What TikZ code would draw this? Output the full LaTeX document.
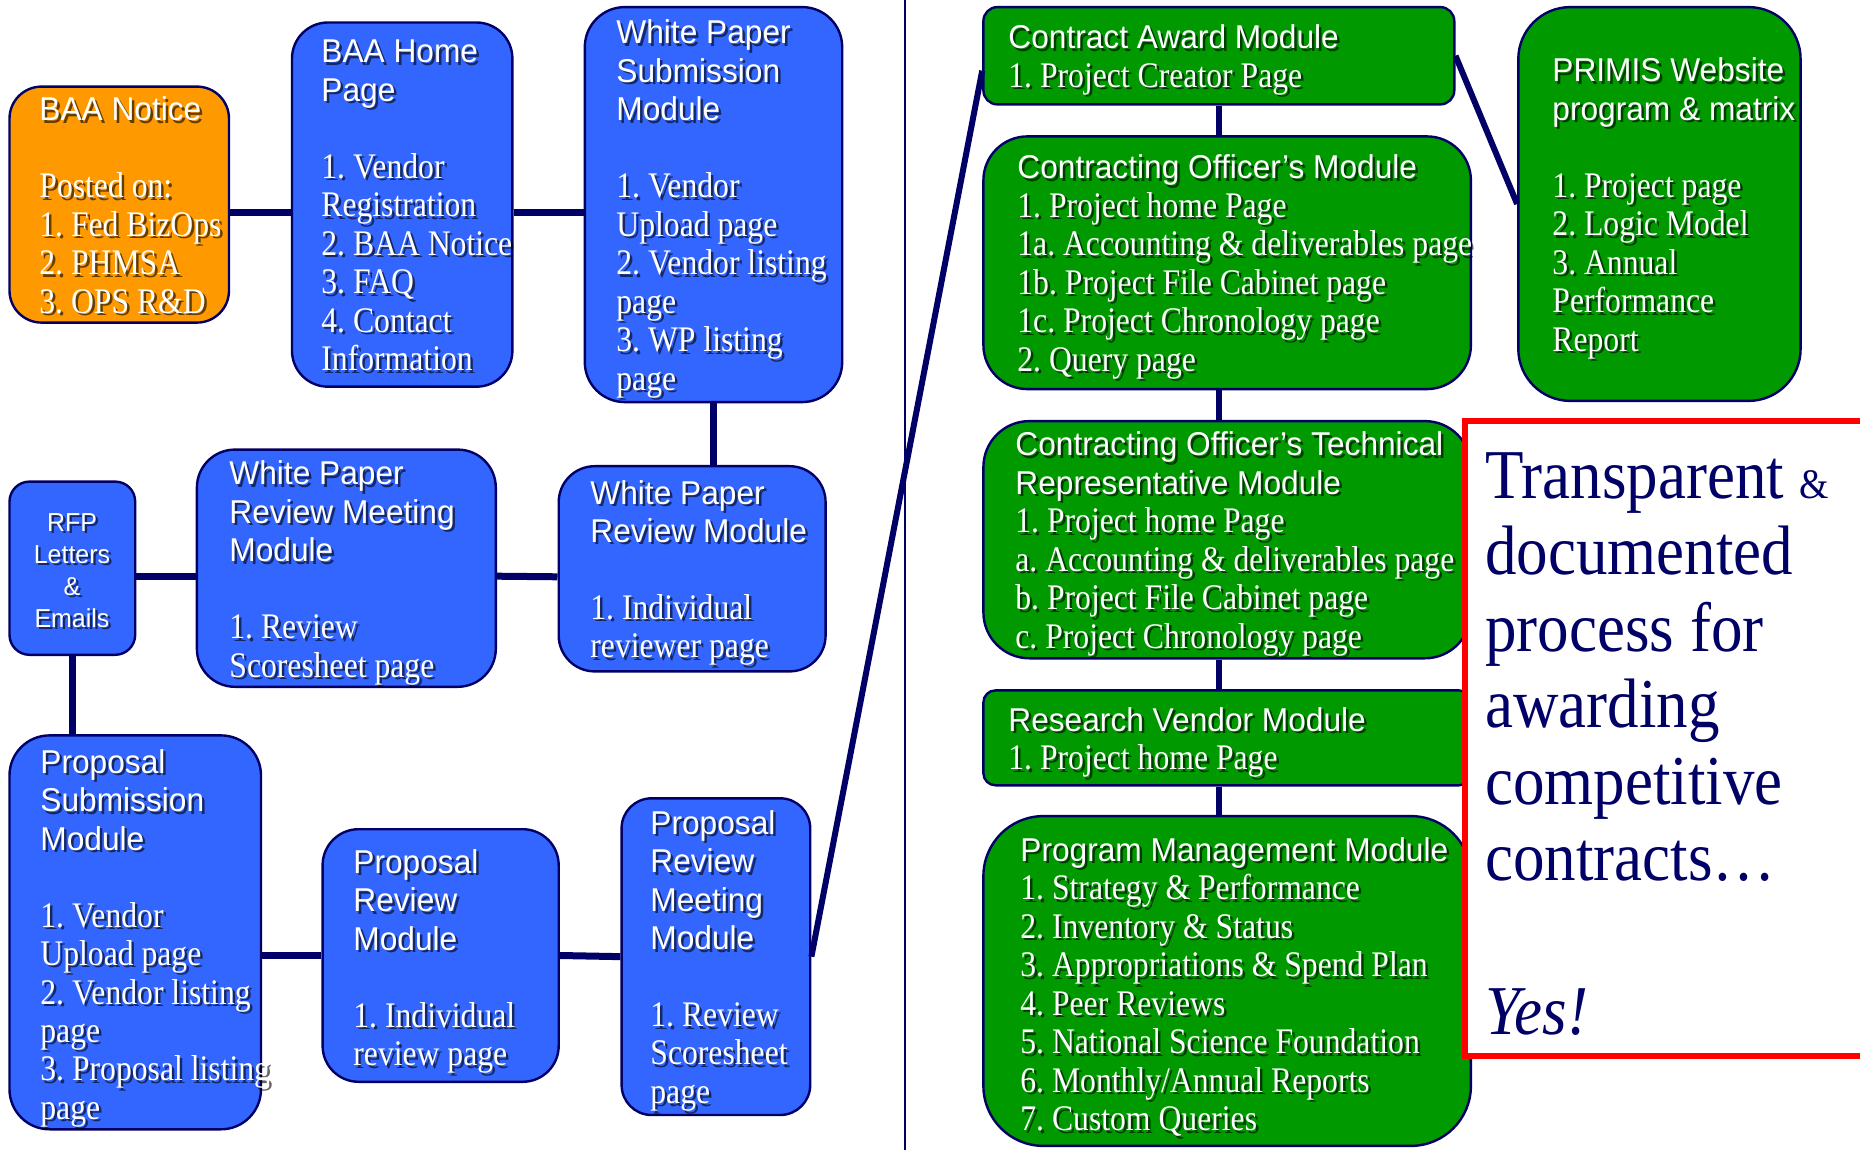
\documentclass[tikz,border=0pt]{standalone}
\usepackage{fontspec}
\setmainfont[FakeStretch=0.88]{Liberation Serif}
\newfontfamily\headfont[FakeStretch=0.96]{Liberation Sans}
\newfontfamily\bigfont[FakeStretch=0.9]{Liberation Serif}
\usetikzlibrary{fit,calc}
\definecolor{boxblue}{HTML}{3366FF}
\definecolor{boxorange}{HTML}{FF9900}
\definecolor{boxgreen}{HTML}{009900}
\definecolor{navy}{HTML}{000066}
\definecolor{alert}{HTML}{FF0000}
\frenchspacing
\newcommand\hd[1]{{\headfont\fontsize{16.5pt}{19.25pt}\selectfont #1}}
\newcommand\gap{\\[19.25pt]}
\newcommand\shtext[4][txt]{%
  \node[#1, text=black, text opacity=.6] (#2-sh) at ([shift={(2.5,2.5)}]#3) {#4};
  \node[#1] (#2) at (#3) {#4};}
\tikzset{
  box/.style={draw=navy, line width=1.2pt, rounded corners=18pt, inner sep=0pt},
  blbox/.style={box, fill=boxblue},
  grbox/.style={box, fill=boxgreen},
  orbox/.style={box, fill=boxorange},
  txt/.style={anchor=base west, inner sep=0pt, text width=300pt, align=flush left,
    text=white, font=\fontsize{18pt}{19.25pt}\selectfont},
  rfptxt/.style={txt, anchor=base, text width=60pt, align=flush center,
    font=\headfont\fontsize{13pt}{16pt}\selectfont},
  link/.style={draw=navy, line width=3.5pt},
  low/.style={yshift=-4pt},
  slant/.style={draw=navy, line width=3pt},
}
\begin{document}
\begin{tikzpicture}[x=0.5pt, y=-0.5pt]
\useasboundingbox (0,0) rectangle (1860,1150);
\coordinate (divtop) at (905,0);
\coordinate (divbot) at (905,1150);
\draw[navy, line width=1.2pt] (divtop) -- (divbot);

\node[orbox, rounded corners=16pt, fit={(9.5,86.6) (229,322.6)}] (notice) {};
\node[blbox, fit={(292,22.5) (512.4,386.7)}] (home) {};
\node[blbox, rounded corners=20pt, fit={(584.8,7.1) (842.2,402.1)}] (wps) {};
\node[blbox, fit={(558.7,466.2) (825.6,671.4)}] (wpr) {};
\node[blbox, rounded corners=19pt, fit={(196.9,449.6) (495.8,686.8)}] (wprm) {};
\node[blbox, rounded corners=10pt, fit={(9.5,481.6) (135.2,654.8)}] (rfp) {};
\node[blbox, rounded corners=20pt, fit={(9.5,735.4) (261,1129.3)}] (psm) {};
\node[blbox, fit={(322.6,829.2) (558.7,1081.8)}] (prm) {};
\node[blbox, rounded corners=15pt, fit={(621.6,798.3) (810.2,1115)}] (prmm) {};

\node[grbox, rounded corners=7pt, fit={(983.4,7.1) (1454.3,104.4)}] (ca) {};
\node[grbox, rounded corners=22pt, fit={(983.4,136.4) (1470.9,389.1)}] (com) {};
\node[grbox, rounded corners=23pt, fit={(983.4,421.1) (1470.9,658.3)}] (cotr) {};
\node[grbox, rounded corners=6pt, fit={(983.4,690.4) (1470.9,785.3)}] (rvm) {};
\node[grbox, rounded corners=30pt, fit={(983.4,816.1) (1470.9,1145.9)}] (pmm) {};
\node[grbox, rounded corners=26pt, fit={(1518.3,7.1) (1800.6,400.9)}] (primis) {};

\draw[link] ([low]notice.east) -- ([low]home.west);
\draw[link] ([low]home.east) -- ([low]wps.west);
\draw[link] (wps.south) -- (wps.south |- wpr.north);
\draw[link] ([low]rfp.east) -- ([low]wprm.west);
\draw[link] ([low]wprm.east) -- ([low]wpr.west);
\draw[link] (rfp.south) -- (rfp.south |- psm.north);
\draw[link] (prm.west -| psm.east) -- (prm.west);
\draw[link] (prm.east) -- (prmm.west);
\draw[slant] (prmm.east) -- ($(ca.west)!.3!(ca.south west)$);
\draw[slant] (ca.east) -- (primis.west);
\draw[slant] (ca.south) -- (com.north -| ca.south);
\draw[slant] (com.south -| ca.south) -- (cotr.north -| ca.south);
\draw[slant] (cotr.south -| ca.south) -- (rvm.north -| ca.south);
\draw[slant] (rvm.south -| ca.south) -- (pmm.north -| ca.south);

\shtext{notice-t}{39,121}{\hd{BAA Notice}\gap Posted on:\\ 1. Fed BizOps\\ 2. PHMSA\\ 3. OPS R\&D}
\shtext{home-t}{321,63}{\hd{BAA Home}\\ \hd{Page}\gap 1. Vendor\\ Registration\\ 2. BAA Notice\\ 3. FAQ\\ 4. Contact\\ Information}
\shtext{wps-t}{616,44}{\hd{White Paper}\\ \hd{Submission}\\ \hd{Module}\gap 1. Vendor\\ Upload page\\ 2. Vendor listing\\ page\\ 3. WP listing\\ page}
\shtext{wpr-t}{590,504}{\hd{White Paper}\\ \hd{Review Module}\gap 1. Individual\\ reviewer page}
\shtext{wprm-t}{229,485}{\hd{White Paper}\\ \hd{Review Meeting}\\ \hd{Module}\gap 1. Review\\ Scoresheet page}
\shtext[rfptxt]{rfp-t}{72,531}{RFP\\ Letters\\ \&\\ Emails}
\shtext{psm-t}{40,773}{\hd{Proposal}\\ \hd{Submission}\\ \hd{Module}\gap 1. Vendor\\ Upload page\\ 2. Vendor listing\\ page\\ 3. Proposal listing\\ page}
\shtext{prm-t}{353,873}{\hd{Proposal}\\ \hd{Review}\\ \hd{Module}\gap 1. Individual\\ review page}
\shtext{prmm-t}{650,834}{\hd{Proposal}\\ \hd{Review}\\ \hd{Meeting}\\ \hd{Module}\gap 1. Review\\ Scoresheet\\ page}

\shtext{ca-t}{1008,49}{\hd{Contract Award Module}\\ 1. Project Creator Page}
\shtext{com-t}{1017,179}{\hd{Contracting Officer’s Module}\\ 1. Project home Page\\ 1a. Accounting \& deliverables page\\ 1b. Project File Cabinet page\\ 1c. Project Chronology page\\ 2. Query page}
\shtext{cotr-t}{1015,456}{\hd{Contracting Officer’s Technical}\\ \hd{Representative Module}\\ 1. Project home Page\\ a. Accounting \& deliverables page\\ b. Project File Cabinet page\\ c. Project Chronology page}
\shtext{rvm-t}{1008,731}{\hd{Research Vendor Module}\\ 1. Project home Page}
\shtext{pmm-t}{1020,861}{\hd{Program Management Module}\\ 1. Strategy \& Performance\\ 2. Inventory \& Status\\ 3. Appropriations \& Spend Plan\\ 4. Peer Reviews\\ 5. National Science Foundation\\ 6. Monthly/Annual Reports\\ 7. Custom Queries}
\shtext{primis-t}{1552,82}{\hd{PRIMIS Website}\\ \hd{program \& matrix}\gap 1. Project page\\ 2. Logic Model\\ 3. Annual\\ Performance\\ Report}

\node[draw=alert, fill=white, line width=3pt, inner sep=0pt, fit={(1465,421) (1880,1056)}] (note) {};
\node[anchor=base west, inner sep=0pt, text width=200pt, align=flush left, text=navy,
  font=\bigfont\fontsize{35pt}{38.3pt}\selectfont] (note-t) at (1485,498)
  {Transparent {\fontsize{21pt}{38.3pt}\selectfont\&}\\ documented\\ process for\\ awarding\\ competitive\\ contracts…\\[38.3pt] \textit{Yes!}};
\end{tikzpicture}
\end{document}
